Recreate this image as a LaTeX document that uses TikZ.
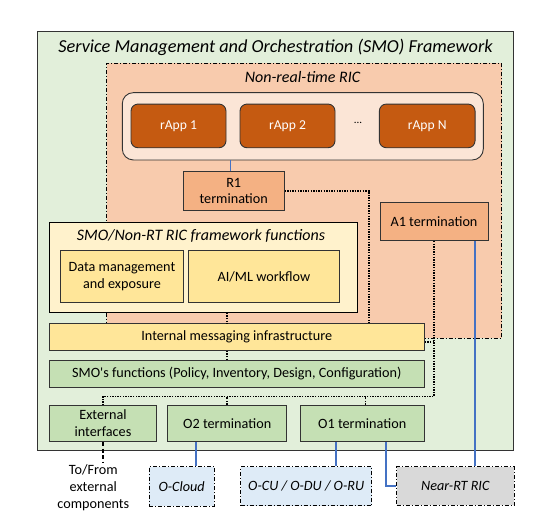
\documentclass[tikz,border=0pt]{standalone}
\usepackage{fontspec}
\setmainfont{Carlito}[Ligatures=TeXOff]

\definecolor{smogreen}{HTML}{E2EFDA}
\definecolor{ricpeach}{HTML}{F8CBAD}
\definecolor{apppale}{HTML}{FBE5D6}
\definecolor{appbrown}{HTML}{C55A11}
\definecolor{termorange}{HTML}{F4B183}
\definecolor{fwcream}{HTML}{FFF2CC}
\definecolor{fwyellow}{HTML}{FFE699}
\definecolor{fngreen}{HTML}{C5E0B4}
\definecolor{extblue}{HTML}{DEEBF7}
\definecolor{extgray}{HTML}{D9D9D9}
\definecolor{ifblue}{HTML}{4472C4}
\definecolor{edgegray}{HTML}{333333}

\tikzset{
    box/.style={draw=edgegray, line width=0.9pt, inner sep=0pt, align=center,
        font=\fontsize{14.2}{16.5}\selectfont},
    dashdotbox/.style={box, draw=black, line width=0.8pt,
        dash pattern=on 4pt off 2pt on 1pt off 2pt,
        font=\fontsize{14.2}{16.5}\selectfont\itshape},
    heading/.style={font=\fontsize{16}{19}\selectfont\itshape, inner sep=0pt},
    rapp/.style={box, fill=appbrown, text=white, rounded corners=7pt,
        minimum width=95pt, minimum height=43.7pt, font=\fontsize{13.6}{16}\selectfont},
    term/.style={box, fill=termorange},
    fn/.style={box, fill=fngreen},
    ctrl/.style={black, line width=1.5pt, dash pattern=on 1.4pt off 1.2pt},
    iface/.style={ifblue, line width=1.3pt},
    extlink/.style={black, line width=2pt, dash pattern=on 4pt off 2.5pt}
}

\begin{document}
\begin{tikzpicture}[x=1pt, y=-1pt]
\useasboundingbox (0,0) rectangle (534,520);

\node[box, fill=smogreen, minimum width=476.2pt, minimum height=419pt] (smo) at (275.4,241.2) {};
\node[heading, font=\fontsize{18.3}{21}\selectfont\itshape] (smotitle) at (275.5,47.5) {Service Management and Orchestration (SMO) Framework};

\node[dashdotbox, fill=ricpeach, minimum width=395pt, minimum height=274.7pt] (nrt) at (304.2,200.7) {};
\node[heading] (nrttitle) at (302.5,77) {Non-real-time RIC};

\node[box, fill=apppale, rounded corners=11pt, minimum width=361pt, minimum height=67.3pt] (rapps) at (302.8,126.3) {};
\node[rapp] (rapp1) at (178.5,125.9) {rApp 1};
\node[rapp] (rapp2) at (287.5,125.9) {rApp 2};
\node[font=\fontsize{11}{13}\selectfont] (rappdots) at (358,123) {...};
\node[rapp, minimum width=95.7pt] (rappN) at (427.2,125.9) {rApp N};

\node[term, minimum width=100.7pt, minimum height=38.3pt] (R1) at (233.7,190.9) {R1\\termination};
\node[term, minimum width=108pt, minimum height=38pt] (A1) at (434,221.6) {A1 termination};

\node[box, draw=black, fill=fwcream, minimum width=308pt, minimum height=90pt] (fw) at (203.3,267.3) {};
\node[heading] (fwtitle) at (201,236) {SMO/Non-RT RIC framework functions};
\node[box, fill=fwyellow, minimum width=122.6pt, minimum height=52pt] (data) at (122,276.7) {Data management\\and exposure};
\node[box, fill=fwyellow, minimum width=150.6pt, minimum height=52pt] (aiml) at (264,276.8) {AI/ML workflow};

\node[box, fill=fwyellow, minimum width=375pt, minimum height=26.6pt] (msg) at (236.8,337) {Internal messaging infrastructure};
\node[fn, minimum width=375pt, minimum height=26.7pt] (smofn) at (236.8,373.7) {SMO's functions (Policy, Inventory, Design, Configuration)};

\node[fn, minimum width=107.4pt, minimum height=36.7pt] (ext) at (103,423.3) {External\\interfaces};
\node[fn, minimum width=119pt, minimum height=36.7pt] (o2) at (227.2,423.3) {O2 termination};
\node[fn, minimum width=124.3pt, minimum height=36.7pt] (o1) at (362.2,423.3) {O1 termination};

\node[dashdotbox, fill=extblue, minimum width=65.3pt, minimum height=39.3pt] (ocloud) at (181.7,486.3) {O-Cloud};
\node[dashdotbox, fill=extblue, minimum width=131pt, minimum height=39pt] (ocu) at (306.2,486.2) {O-CU / O-DU / O-RU};
\node[dashdotbox, fill=extgray, minimum width=117.3pt, minimum height=38.6pt] (nearrt) at (455.3,486) {Near-RT RIC};
\node[align=center, inner sep=0pt, font=\fontsize{14.2}{17}\selectfont] (tofrom) at (93.3,488) {To/From\\external\\components};

\coordinate (bus) at (434,396.5);

\draw[iface] ([xshift=-3pt]R1.north) -- ([xshift=-3pt]R1.north |- rapps.south);
\draw[ctrl] (R1.east) -| ([xshift=132.2pt]msg.north);
\draw[ctrl] (fw.south -| o2.north) -- (msg.north -| o2.north);
\draw[ctrl] (msg.south -| o2.north) -- (smofn.north -| o2.north);
\draw[ctrl] (A1.south) -- (bus) -| (ext.north);
\draw[ctrl] ([yshift=-5pt]msg.east) -- ([yshift=-5pt]msg.east -| bus);
\draw[ctrl] (o2.north) -- (o2.north |- bus);
\draw[ctrl] ([xshift=3.5pt]o1.north) -- ([xshift=3.5pt]o1.north |- bus);
\draw[extlink] (ext.south) -- ++(0,20);
\draw[iface] ([xshift=14.3pt]ocloud.north) -- ([xshift=14.3pt]ocloud.north |- o2.south);
\draw[iface] ([xshift=29.8pt]ocu.north) -- ([xshift=29.8pt]ocu.north |- o1.south);
\draw[iface] ([xshift=23.8pt]o1.south) |- (nearrt.west);
\draw[iface] ([xshift=41pt]A1.south) -- ([xshift=41pt]A1.south |- nearrt.north);
\end{tikzpicture}
\end{document}
